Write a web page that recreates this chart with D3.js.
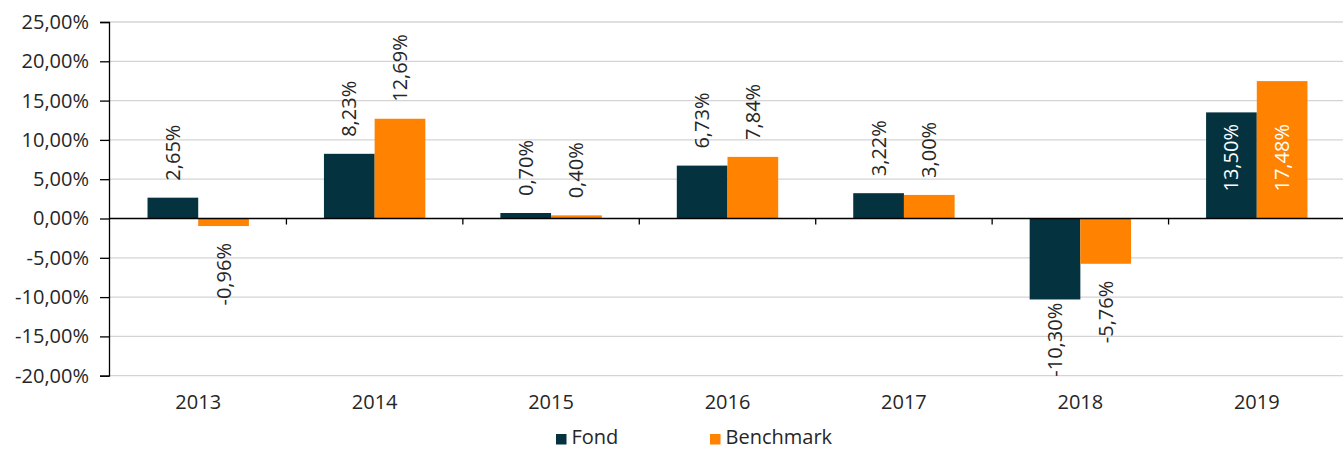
<!DOCTYPE html>
<html>
<head>
<meta charset="utf-8">
<script src="https://cdn.jsdelivr.net/npm/d3@7"></script>
<style>
  html, body { margin: 0; padding: 0; background: #fff; }
  svg text { font-family: "Open Sans", "Noto Sans", sans-serif; fill: #262626; }
</style>
</head>
<body>
<div id="chart"></div>
<script>
const years = ['2013', '2014', '2015', '2016', '2017', '2018', '2019'];
const seriesNames = ['Fond', 'Benchmark'];
const fond = [2.65, 8.23, 0.70, 6.73, 3.22, -10.30, 13.50];
const benchmark = [-0.96, 12.69, 0.40, 7.84, 3.00, -5.76, 17.48];
const yTicks = [-20, -15, -10, -5, 0, 5, 10, 15, 20, 25];
const colors = ['#04323f', '#ff8200'];

const width = 1343, height = 450;
const margin = { top: 22, right: 0, bottom: 74.3, left: 109 };
const fontSize = 20;

const svg = d3.select('#chart')
  .append('svg')
  .attr('width', width)
  .attr('height', height);

const x = d3.scaleBand()
  .domain(years)
  .range([margin.left + 1, width - margin.right + 2])
  .paddingInner(0)
  .paddingOuter(0);

const xs = d3.scaleBand()
  .domain(seriesNames)
  .range([0, x.bandwidth()])
  .paddingInner(0)
  .paddingOuter(0.74);

const y = d3.scaleLinear()
  .domain([-20, 25])
  .range([height - margin.bottom, margin.top]);

// comma decimals, plain hyphen for negatives
const fmt = v => (v < 0 ? '-' : '') + d3.format('.2f')(Math.abs(v)).replace('.', ',') + '%';

// gridlines
svg.append('g')
  .selectAll('line')
  .data(yTicks.filter(t => t !== 0))
  .enter()
  .append('line')
  .attr('x1', margin.left)
  .attr('x2', width - margin.right)
  .attr('y1', d => y(d))
  .attr('y2', d => y(d))
  .attr('stroke', '#d4d4d4')
  .attr('stroke-width', 1.3);

// y axis
const yAxis = svg.append('g')
  .attr('transform', `translate(${margin.left},0)`)
  .call(d3.axisLeft(y).tickValues(yTicks).tickSize(9).tickPadding(11).tickFormat(fmt));
yAxis.select('.domain').attr('stroke', '#000').attr('stroke-width', 1.3);
yAxis.selectAll('.tick line').attr('stroke', '#000').attr('stroke-width', 1.3);
yAxis.selectAll('text')
  .style('font-size', fontSize + 'px')
  .attr('fill', '#262626');

// bars
const rows = years.map((yr, i) => ({ year: yr, values: [fond[i], benchmark[i]] }));
const groups = svg.append('g')
  .selectAll('g')
  .data(rows)
  .enter()
  .append('g')
  .attr('transform', d => `translate(${x(d.year)},0)`);

groups.selectAll('rect')
  .data(d => d.values.map((v, k) => ({ v, name: seriesNames[k], k })))
  .enter()
  .append('rect')
  .attr('x', d => xs(d.name))
  .attr('width', xs.bandwidth())
  .attr('y', d => y(Math.max(0, d.v)))
  .attr('height', d => Math.abs(y(d.v) - y(0)))
  .attr('fill', d => colors[d.k]);

// x axis line + category boundary ticks
svg.append('line')
  .attr('x1', margin.left)
  .attr('x2', width - margin.right)
  .attr('y1', y(0))
  .attr('y2', y(0))
  .attr('stroke', '#000')
  .attr('stroke-width', 1.3);

svg.append('g')
  .selectAll('line')
  .data(years.slice(1))
  .enter()
  .append('line')
  .attr('x1', d => x(d))
  .attr('x2', d => x(d))
  .attr('y1', y(0))
  .attr('y2', y(0) + 6)
  .attr('stroke', '#000')
  .attr('stroke-width', 1.3);

// category labels
svg.append('g')
  .selectAll('text')
  .data(years)
  .enter()
  .append('text')
  .attr('x', d => x(d) + x.bandwidth() / 2)
  .attr('y', y(-20) + 33)
  .attr('text-anchor', 'middle')
  .style('font-size', fontSize + 'px')
  .text(d => d);

// data labels (rotated)
const gap = 17;
groups.selectAll('text.lbl')
  .data(d => d.values.map((v, k) => ({ v, name: seriesNames[k], k })))
  .enter()
  .append('text')
  .attr('class', 'lbl')
  .style('font-size', fontSize + 'px')
  .attr('dy', '0.35em')
  .text(d => fmt(d.v))
  .each(function (d) {
    const t = d3.select(this);
    const len = this.getComputedTextLength();
    const cx = xs(d.name) + xs.bandwidth() / 2;
    let pos, fill = '#262626';
    if (d.v >= 0) {
      pos = y(d.v) - gap;
      if (pos - len < y(25) + 12) {
        // does not fit above: put inside the bar
        pos = y(0) - 27;
        fill = '#ffffff';
      }
    } else {
      pos = y(d.v) + gap + len;
      if (pos > y(-20) + 1) pos = y(-20) + 1;
    }
    t.attr('text-anchor', 'start')
      .attr('transform', `translate(${cx},${pos}) rotate(-90)`)
      .style('fill', fill);
  });

// legend
const legend = svg.append('g');
const legendX = [556, 710];
seriesNames.forEach((name, k) => {
  legend.append('rect')
    .attr('x', legendX[k])
    .attr('y', 434)
    .attr('width', 10.5)
    .attr('height', 10.5)
    .attr('fill', colors[k]);
  legend.append('text')
    .attr('x', legendX[k] + 15.5)
    .attr('y', 444)
    .style('font-size', fontSize + 'px')
    .text(name);
});
</script>
</body>
</html>
